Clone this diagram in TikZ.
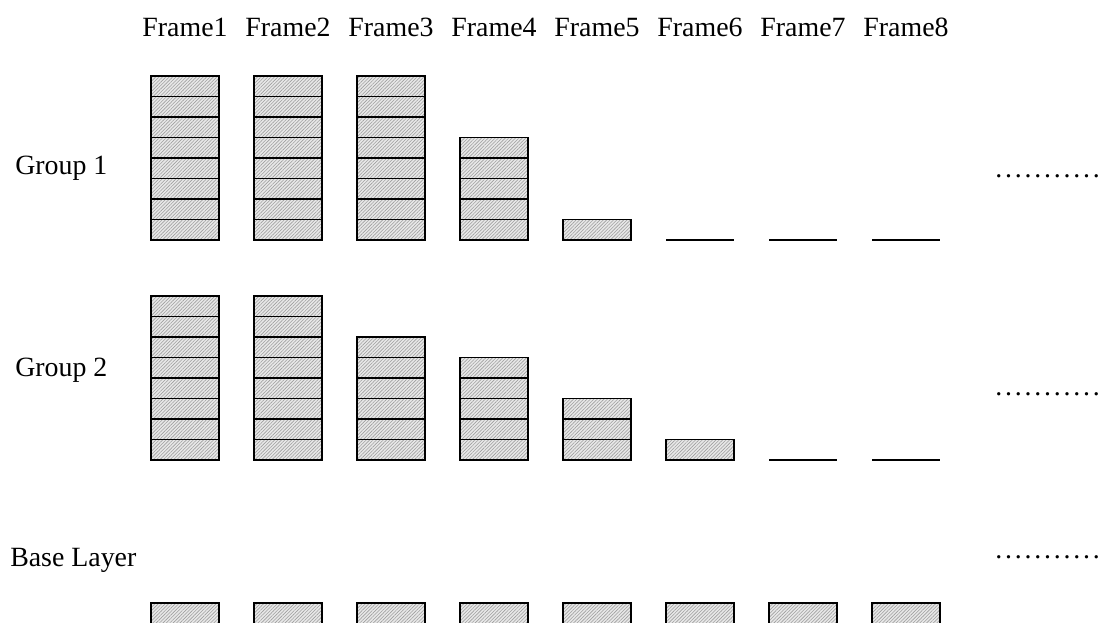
\documentclass[tikz,border=0pt]{standalone}
\usepackage{fontspec}
\setmainfont{Liberation Serif}
\usetikzlibrary{patterns.meta}
\newcommand\mydotrow{\foreach \d in {1,...,10}{.\kern2.1pt}.}
\begin{document}
\begin{tikzpicture}[x=0.75pt,y=-0.75pt,
  cell/.style={draw=black,line width=1.1pt,preaction={fill=gray!18},
    pattern={Lines[angle=45,distance=1.8pt,line width=0.45pt]},pattern color=gray!75},
  emptyline/.style={draw=black,line width=1.1pt},
  lbl/.style={font=\fontsize{20.9}{25}\selectfont,inner sep=0pt,anchor=base},
  lblw/.style={lbl,anchor=base west}]
\useasboundingbox (0,0) rectangle (1103,623);
\clip (0,0) rectangle (1103,623);
% frame labels
\foreach \i in {1,...,8}{
  \pgfmathsetmacro\xc{185+103*(\i-1)}
  \node[lbl] (frame\i) at (\xc,37) {Frame\i};
}
% group labels
\node[lblw] (g1) at (15,175) {Group 1};
\node[lblw] (g2) at (15,377) {Group 2};
\node[lblw] (base) at (10,566) {Base Layer};
\node[lblw] (d1) at (995,178) {\mydotrow};
\node[lblw] (d2) at (995,396) {\mydotrow};
\node[lblw] (d3) at (995,558) {\mydotrow};
% group 1
\foreach \n [count=\i from 0] in {8,8,8,5,1,0,0,0}{
  \pgfmathsetmacro\xl{151+103*\i}
  \ifnum\n>0
    \foreach \k in {1,...,\n}{
      \draw[cell] (\xl,{240-20.5*(\k-1)}) rectangle ++(68,-20.5);
    }
  \else
    \draw[emptyline] (\xl,240) -- ++(68,0);
  \fi
}
% group 2
\foreach \n [count=\i from 0] in {8,8,6,5,3,1,0,0}{
  \pgfmathsetmacro\xl{151+103*\i}
  \ifnum\n>0
    \foreach \k in {1,...,\n}{
      \draw[cell] (\xl,{460-20.5*(\k-1)}) rectangle ++(68,-20.5);
    }
  \else
    \draw[emptyline] (\xl,460) -- ++(68,0);
  \fi
}
% base layer
\foreach \i in {0,...,7}{
  \pgfmathsetmacro\xl{151+103*\i}
  \draw[cell] (\xl,603) rectangle ++(68,21);
}
\end{tikzpicture}
\end{document}
